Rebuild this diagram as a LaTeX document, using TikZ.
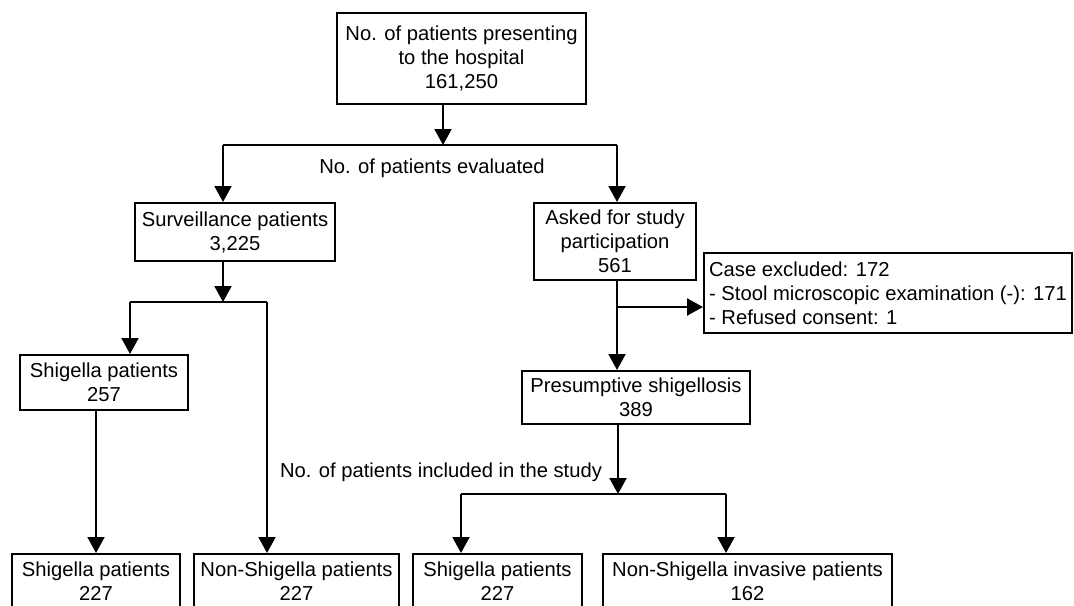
\documentclass[tikz,border=0pt]{standalone}
\usepackage{fontspec}
\setmainfont{Liberation Sans}
\usetikzlibrary{arrows.meta,positioning}

\begin{document}
\begin{tikzpicture}[
        x=0.5pt, y=-0.5pt,
        font=\fontsize{10.1}{12}\selectfont,
        node distance=6pt,
        box/.style={draw, line width=1pt, align=center, inner sep=0pt},
        lbl/.style={inner sep=0pt},
        line/.style={line width=1pt},
        arrow/.style={-{Triangle[length=8pt,width=8.5pt]}, line width=1pt}
    ]
        \useasboundingbox (0,0) rectangle (1074,605);
        \clip (0,0) rectangle (1074,605);

        \node[box, minimum width=124.5pt, minimum height=45.5pt] (hosp) at (461.5,58.5)
            {No. of patients presenting\\to the hospital\\161,250};
        \node[box, minimum width=100pt, minimum height=29pt] (surv) at (235,232)
            {Surveillance patients\\3,225};
        \node[box, minimum width=81pt, minimum height=38.5pt] (asked) at (615,241.5)
            {Asked for study\\participation\\561};
        \node[box, align=left, minimum width=184pt, minimum height=40pt] (excl) at (888,293)
            {Case excluded: 172\\- Stool microscopic examination (-): 171\\- Refused consent: 1};
        \node[box, minimum width=84pt, minimum height=27.5pt] (shig) at (104,382.5)
            {Shigella patients\\257};
        \node[box, minimum width=114pt, minimum height=26.5pt] (pres) at (636,397.5)
            {Presumptive shigellosis\\389};

        % bottom row
        \node[box, minimum width=84pt, minimum height=27.5pt] (shigA) at (96,581.5)
            {Shigella patients\\227};
        \node[box, minimum width=102.5pt, minimum height=27.5pt, right=of shigA] (nonshigA)
            {Non-Shigella patients\\227};
        \node[box, minimum width=84.5pt, minimum height=27.5pt, right=of nonshigA] (shigB)
            {Shigella patients\\227};
        \node[box, minimum width=144.5pt, minimum height=27.5pt, right=9.5pt of shigB] (nonshigB)
            {Non-Shigella invasive patients\\162};

        \node[lbl] (evaltxt) at (432,168) {No. of patients evaluated};
        \node[lbl] (incltxt) at (441,472) {No. of patients included in the study};

        \coordinate (evalM) at (443,145);
        \coordinate (evalL) at (223,145);
        \coordinate (evalR) at (617,145);
        \coordinate (splitM) at (223,302);
        \coordinate (splitL) at (130,302);
        \coordinate (splitR) at (267,302);
        \coordinate (exclM) at (617,307);
        \coordinate (inclM) at (618,494);
        \coordinate (inclL) at (461,494);
        \coordinate (inclR) at (726,494);

        \draw[arrow] (hosp.south -| evalM) -- (evalM);
        \draw[line] (evalL) -- (evalR);
        \draw[arrow] (evalL) -- (surv.north -| evalL);
        \draw[arrow] (evalR) -- (asked.north -| evalR);

        \draw[arrow] (surv.south -| splitM) -- (splitM);
        \draw[line] (splitL) -- (splitR);
        \draw[arrow] (splitL) -- (shig.north -| splitL);
        \draw[arrow] (splitR) -- (nonshigA.north -| splitR);
        \draw[arrow] (shig.south -| shigA.north) -- (shigA.north);

        \draw[arrow] (asked.south -| evalR) -- (pres.north -| evalR);
        \draw[arrow] (exclM) -- (excl.west |- exclM);

        \draw[arrow] (pres.south -| inclM) -- (inclM);
        \draw[line] (inclL) -- (inclR);
        \draw[arrow] (inclL) -- (shigB.north -| inclL);
        \draw[arrow] (inclR) -- (nonshigB.north -| inclR);
    \end{tikzpicture}
\end{document}
